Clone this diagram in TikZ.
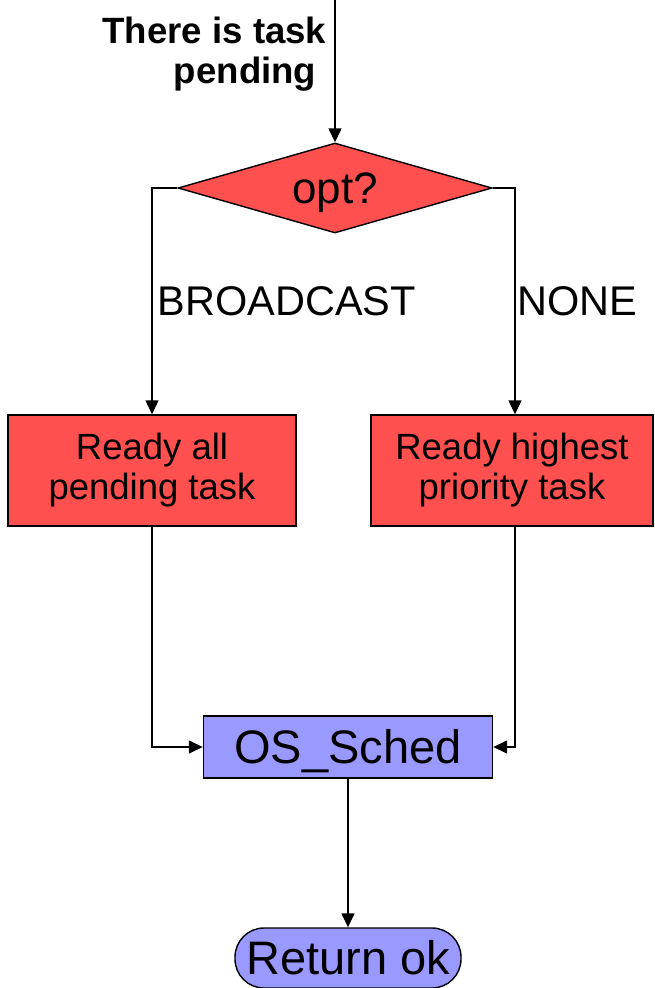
\documentclass[tikz,border=0pt]{standalone}
\usepackage{fontspec}
\setmainfont{Liberation Sans}
\usetikzlibrary{arrows.meta,shapes.geometric}

\definecolor{boxred}{RGB}{255,80,80}
\definecolor{boxblue}{RGB}{153,153,255}

\begin{document}
\begin{tikzpicture}[x=1pt,y=-1pt,
  line width=1.4pt,
  flow/.style={draw=black, line width=1.4pt, -{Triangle[length=14pt,width=13pt]}},
  decision/.style={shape=diamond, draw=black, fill=boxred, inner sep=0pt,
    aspect=3.49, minimum width=314pt, minimum height=90pt,
    font=\fontsize{44}{48}\selectfont, text height=40pt, text depth=9pt},
  process/.style={shape=rectangle, draw=black, fill=boxred, inner sep=0pt,
    align=center, font=\fontsize{36.5}{40}\selectfont},
  callbox/.style={shape=rectangle, draw=black, fill=boxblue, inner sep=0pt,
    font=\fontsize{47}{51}\selectfont, text height=42pt, text depth=10pt},
  terminal/.style={shape=rectangle, rounded corners=29pt, draw=black, fill=boxblue,
    inner sep=0pt, font=\fontsize{47}{51}\selectfont, text height=42pt, text depth=10pt},
  branch/.style={inner sep=0pt, anchor=west, font=\fontsize{41.5}{45}\selectfont},
  entry/.style={inner sep=0pt, anchor=east, align=right,
    font=\fontsize{36.6}{40}\selectfont\bfseries}
]
\useasboundingbox (0,0) rectangle (654,988);

% shapes
\node[decision] (dec) at (335,188) {opt?};
\node[process, minimum width=288pt, minimum height=111pt] (lbox) at (152,470.5)
  {Ready all\\pending task};
\node[process, minimum width=282pt, minimum height=111pt] (rbox) at (512,470.5)
  {Ready highest\\priority task};
\node[callbox, minimum width=289pt, minimum height=62pt] (sched) at (348,747)
  {OS\_Sched};
\node[terminal, minimum width=226pt, minimum height=60pt] (ret) at (348,958)
  {Return ok};

% incoming flow
\coordinate (start) at (335,0);
\draw[flow] (start) -- (dec.north)
  node[entry, pos=0.38, xshift=-8pt] {There is task\\pending\hspace*{10pt}};

% branches
\draw[flow] (dec.west) -| (lbox.north)
  node[branch, pos=0.75, xshift=5pt] {BROADCAST};
\draw[flow] (dec.east) -| ([xshift=3pt]rbox.north)
  node[branch, pos=0.75, xshift=2pt] {NONE};

% merge into the scheduler
\draw[flow] (lbox.south) |- (sched.west);
\draw[flow] ([xshift=3pt]rbox.south) |- (sched.east);
\draw[flow] (sched.south) -- (ret.north);
\end{tikzpicture}
\end{document}
